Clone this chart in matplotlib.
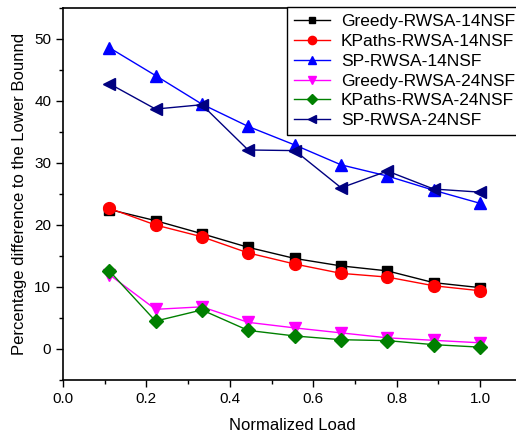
import matplotlib
matplotlib.use("Agg")
import matplotlib.pyplot as plt
from matplotlib.ticker import MultipleLocator

plt.rcParams['font.family'] = ['Liberation Sans', 'DejaVu Sans']

load = [0.111, 0.222, 0.333, 0.444, 0.556, 0.667, 0.778, 0.889, 1.0]
greedy_14 = [22.5, 20.7, 18.6, 16.4, 14.6, 13.4, 12.6, 10.7, 9.9]
kpaths_14 = [22.7, 20.0, 18.1, 15.5, 13.7, 12.2, 11.6, 10.2, 9.4]
sp_14 = [48.6, 44.1, 39.5, 35.9, 32.9, 29.7, 27.9, 25.6, 23.5]
greedy_24 = [12.0, 6.4, 6.8, 4.3, 3.4, 2.6, 1.8, 1.4, 1.0]
kpaths_24 = [12.6, 4.5, 6.3, 3.0, 2.1, 1.5, 1.35, 0.7, 0.3]
sp_24 = [42.8, 38.7, 39.4, 32.1, 32.0, 26.0, 28.7, 25.8, 25.3]

series = [
    ("Greedy-RWSA-14NSF", greedy_14, "black", "s", 7),
    ("KPaths-RWSA-14NSF", kpaths_14, "red", "o", 8.5),
    ("SP-RWSA-14NSF", sp_14, "blue", "^", 9),
    ("Greedy-RWSA-24NSF", greedy_24, "magenta", "v", 9),
    ("KPaths-RWSA-24NSF", kpaths_24, "green", "D", 7),
    ("SP-RWSA-24NSF", sp_24, "navy", "<", 9),
]

fig = plt.figure(figsize=(5.16, 4.37), dpi=100)
ax = fig.add_axes([63/516, 57/437, 458.7/516, (380-8)/437])

for label, vals, color, marker, ms in series:
    ax.plot(load, vals, color=color, marker=marker, markersize=ms,
            linewidth=1.0, label=label, markeredgecolor=color)

ax.set_xlim(0, 1.1)
ax.set_ylim(-5, 55)
ax.xaxis.set_major_locator(MultipleLocator(0.2))
ax.xaxis.set_minor_locator(MultipleLocator(0.1))
ax.yaxis.set_major_locator(MultipleLocator(10))
ax.yaxis.set_minor_locator(MultipleLocator(5))
ax.tick_params(which='major', direction='out', length=5, width=1, labelsize=11)
ax.tick_params(which='minor', direction='out', length=3, width=1)
for s in ax.spines.values():
    s.set_linewidth(1.2)

ax.set_xlabel("Normalized Load", fontsize=12, labelpad=9)
ax.set_ylabel("Percentage difference to the Lower Bounnd", fontsize=12, labelpad=5)

leg = ax.legend(loc='upper left', bbox_to_anchor=(287/516, 1-7/437),
                bbox_transform=fig.transFigure, fontsize=12.5, frameon=True,
                fancybox=False, edgecolor='black', framealpha=1,
                labelspacing=0.27, handlelength=2.1, handletextpad=0.6,
                borderpad=0.4, borderaxespad=0, markerscale=0.7)
leg.get_frame().set_linewidth(1.0)

fig.savefig("out.png", dpi=100)
